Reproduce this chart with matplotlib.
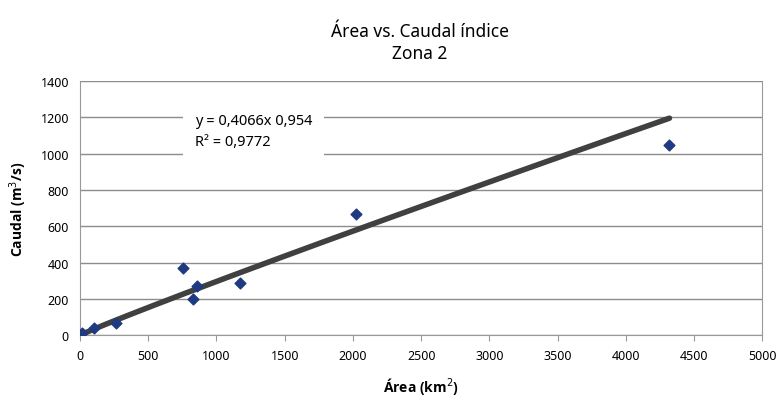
import numpy as np
import matplotlib.pyplot as plt

plt.rcParams['font.family'] = ['Noto Sans', 'DejaVu Sans']

# Datos
area = [15, 100, 265, 755, 830, 855, 1170, 2020, 4320]
caudal = [10, 40, 65, 370, 200, 270, 290, 665, 1045]
coef_a = 0.4066
coef_b = 0.954
r2 = 0.9772

fig = plt.figure(figsize=(7.77, 4.10), dpi=100)
ax = fig.add_axes([0.103, 0.180, 0.878, 0.620])

# Línea de tendencia potencial
xs = np.linspace(min(area), max(area), 200)
ax.plot(xs, coef_a * xs ** coef_b, color='#404040', linewidth=4,
        solid_capstyle='round', zorder=2)

ax.scatter(area, caudal, marker='D', s=30, color='#1f3a80', zorder=3)

ax.set_xlim(0, 5000)
ax.set_ylim(0, 1400)
ax.set_xticks(range(0, 5001, 500))
ax.set_yticks(range(0, 1401, 200))
ax.yaxis.grid(True, color='#8c8c8c', linewidth=1)
ax.set_axisbelow(True)
for s in ['left', 'bottom', 'right']:
    ax.spines[s].set_color('#999999')
ax.spines['top'].set_visible(False)
ax.tick_params(axis='y', length=0, labelsize=9, pad=8)
ax.tick_params(axis='x', length=4, color='#999999', labelsize=9, pad=6)

bold_font = dict(family=['Open Sans', 'DejaVu Sans'], fontweight='bold', fontsize=10)
ax.set_xlabel('Área (km$^{2}$)', labelpad=9, **bold_font)
ax.set_ylabel('Caudal (m$^{3}$/s)', labelpad=8, **bold_font)

fig.text(0.54, 0.895, 'Área vs. Caudal índice\nZona 2', ha='center', va='center',
         fontsize=12.5, linespacing=1.25)

eq = f'y = {coef_a:.4f}x {coef_b:.3f}'.replace('.', ',')
r2_txt = f'R² = {r2:.4f}'.replace('.', ',')
ax.text(840, 1125, eq + '\n' + r2_txt, fontsize=10.5, va='center', ha='left',
        linespacing=1.6,
        bbox=dict(boxstyle='square,pad=0.8', facecolor='white', edgecolor='none'))

fig.savefig('out.png', dpi=100)
